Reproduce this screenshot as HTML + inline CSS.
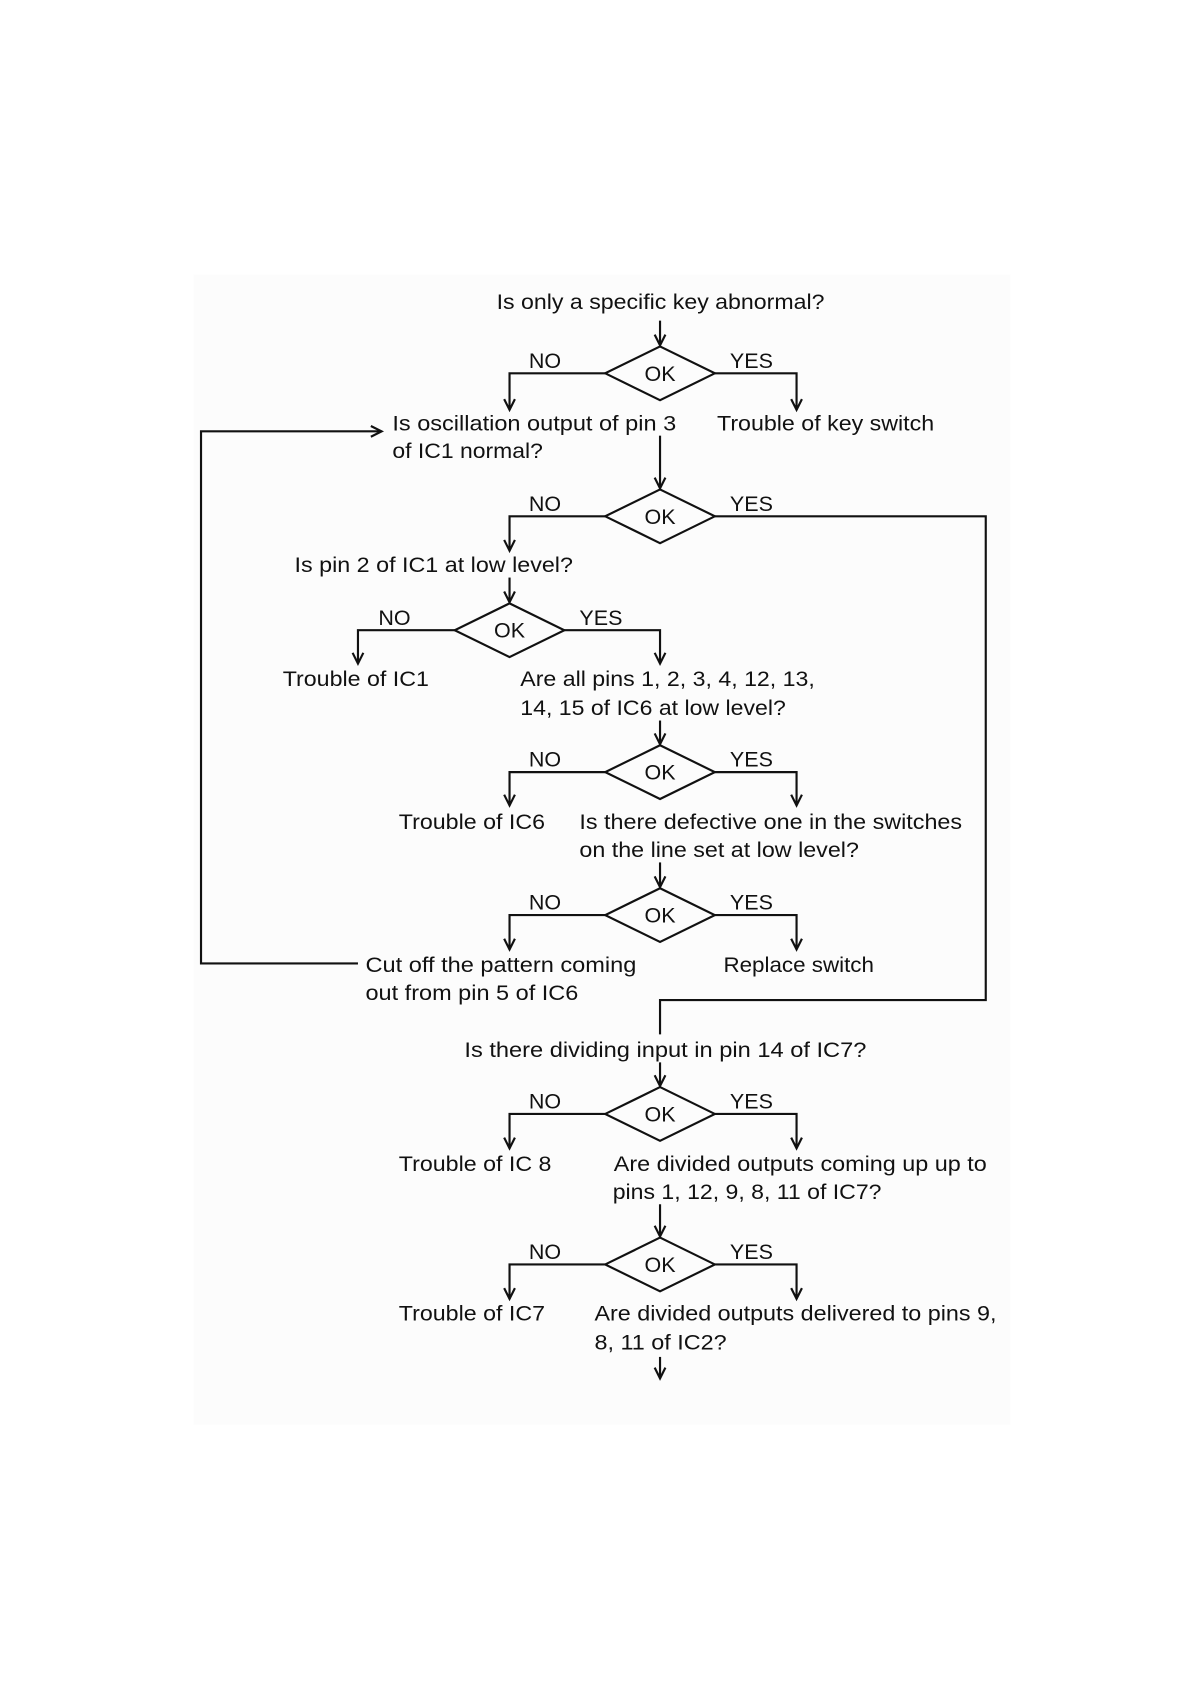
<!DOCTYPE html>
<html><head><meta charset="utf-8"><style>
html,body{margin:0;padding:0;background:#fff;}
svg{display:block;}
text{font-family:"Liberation Sans",Arial,sans-serif;font-size:20px;fill:#111;}
</style></head><body>
<svg width="1190" height="1684" viewBox="0 0 1107 1566" xmlns="http://www.w3.org/2000/svg">
<rect x="180" y="255" width="760" height="1070" fill="#fcfcfc"/>
<g fill="none" stroke="#111" stroke-width="2">
<polygon points="614,322 665,347 614,372 563,347"/>
<polygon points="614,455 665,480 614,505 563,480"/>
<polygon points="474,561 525,586 474,611 423,586"/>
<polygon points="614,693 665,718 614,743 563,718"/>
<polygon points="614,826 665,851 614,876 563,851"/>
<polygon points="614,1011 665,1036 614,1061 563,1036"/>
<polygon points="614,1151 665,1176 614,1201 563,1176"/>
<path d="M614,298V321"/>
<path d="M563,347H474V381M665,347H741V381"/>
<path d="M614,405V454"/>
<path d="M563,480H474V512M665,480H917V930H614V962"/>
<path d="M474,537V560"/>
<path d="M423,586H333V617M525,586H614V617"/>
<path d="M614,670V692"/>
<path d="M563,718H474V749M665,718H741V749"/>
<path d="M614,802V825"/>
<path d="M563,851H474V883M665,851H741V883"/>
<path d="M333,896H187V401H355"/>
<path d="M614,988V1010"/>
<path d="M563,1036H474V1068M665,1036H741V1068"/>
<path d="M614,1120V1150"/>
<path d="M563,1176H474V1208M665,1176H741V1208"/>
<path d="M614,1262V1282"/>
<path d="M609,311L614,321L619,311"/>
<path d="M469,371L474,381L479,371M736,371L741,381L746,371"/>
<path d="M609,444L614,454L619,444"/>
<path d="M469,502L474,512L479,502"/>
<path d="M469,550L474,560L479,550"/>
<path d="M328,607L333,617L338,607M609,607L614,617L619,607"/>
<path d="M609,682L614,692L619,682"/>
<path d="M469,739L474,749L479,739M736,739L741,749L746,739"/>
<path d="M609,815L614,825L619,815"/>
<path d="M469,873L474,883L479,873M736,873L741,883L746,873"/>
<path d="M345,396L355,401L345,406"/>
<path d="M609,1000L614,1010L619,1000"/>
<path d="M469,1058L474,1068L479,1058M736,1058L741,1068L746,1058"/>
<path d="M609,1140L614,1150L619,1140"/>
<path d="M469,1198L474,1208L479,1198M736,1198L741,1208L746,1198"/>
<path d="M609,1272L614,1282L619,1272"/>
</g>
<g>
<text x="462" y="287" textLength="305" lengthAdjust="spacingAndGlyphs">Is only a specific key abnormal?</text>
<text x="365" y="400" textLength="264" lengthAdjust="spacingAndGlyphs">Is oscillation output of pin 3</text>
<text x="365" y="426" textLength="140" lengthAdjust="spacingAndGlyphs">of IC1 normal?</text>
<text x="667" y="400" textLength="202" lengthAdjust="spacingAndGlyphs">Trouble of key switch</text>
<text x="274" y="532" textLength="259" lengthAdjust="spacingAndGlyphs">Is pin 2 of IC1 at low level?</text>
<text x="263" y="638" textLength="136" lengthAdjust="spacingAndGlyphs">Trouble of IC1</text>
<text x="484" y="638" textLength="274" lengthAdjust="spacingAndGlyphs">Are all pins 1, 2, 3, 4, 12, 13,</text>
<text x="484" y="665" textLength="247" lengthAdjust="spacingAndGlyphs">14, 15 of IC6 at low level?</text>
<text x="371" y="771" textLength="136" lengthAdjust="spacingAndGlyphs">Trouble of IC6</text>
<text x="539" y="771" textLength="356" lengthAdjust="spacingAndGlyphs">Is there defective one in the switches</text>
<text x="539" y="797" textLength="260" lengthAdjust="spacingAndGlyphs">on the line set at low level?</text>
<text x="340" y="904" textLength="252" lengthAdjust="spacingAndGlyphs">Cut off the pattern coming</text>
<text x="340" y="930" textLength="198" lengthAdjust="spacingAndGlyphs">out from pin 5 of IC6</text>
<text x="673" y="904" textLength="140" lengthAdjust="spacingAndGlyphs">Replace switch</text>
<text x="432" y="983" textLength="374" lengthAdjust="spacingAndGlyphs">Is there dividing input in pin 14 of IC7?</text>
<text x="371" y="1089" textLength="142" lengthAdjust="spacingAndGlyphs">Trouble of IC 8</text>
<text x="571" y="1089" textLength="347" lengthAdjust="spacingAndGlyphs">Are divided outputs coming up up to</text>
<text x="570" y="1115" textLength="250" lengthAdjust="spacingAndGlyphs">pins 1, 12, 9, 8, 11 of IC7?</text>
<text x="371" y="1228" textLength="136" lengthAdjust="spacingAndGlyphs">Trouble of IC7</text>
<text x="553" y="1228" textLength="374" lengthAdjust="spacingAndGlyphs">Are divided outputs delivered to pins 9,</text>
<text x="553" y="1255" textLength="123" lengthAdjust="spacingAndGlyphs">8, 11 of IC2?</text>
</g>
<g text-anchor="middle">
<text x="614" y="354">OK</text><text x="507" y="342">NO</text><text x="699" y="342">YES</text>
<text x="614" y="487">OK</text><text x="507" y="475">NO</text><text x="699" y="475">YES</text>
<text x="474" y="593">OK</text><text x="367" y="581">NO</text><text x="559" y="581">YES</text>
<text x="614" y="725">OK</text><text x="507" y="713">NO</text><text x="699" y="713">YES</text>
<text x="614" y="858">OK</text><text x="507" y="846">NO</text><text x="699" y="846">YES</text>
<text x="614" y="1043">OK</text><text x="507" y="1031">NO</text><text x="699" y="1031">YES</text>
<text x="614" y="1183">OK</text><text x="507" y="1171">NO</text><text x="699" y="1171">YES</text>
</g>
</svg>
</body></html>
